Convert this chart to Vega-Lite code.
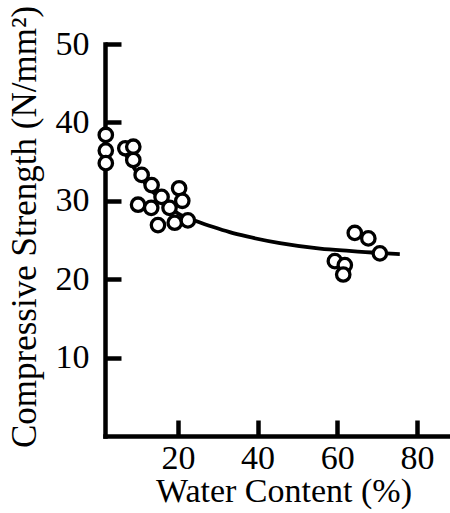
{
  "$schema": "https://vega.github.io/schema/vega-lite/v6.json",
  "autosize": "none",
  "padding": {"left": 105, "top": 44, "right": 0, "bottom": 77},
  "width": 345,
  "height": 392,
  "background": "white",
  "config": {"view": {"stroke": null}},
  "datasets": {
    "points": [
      {"w": 1.9, "s": 38.4}, {"w": 1.9, "s": 36.4}, {"w": 1.9, "s": 34.8},
      {"w": 6.8, "s": 36.7}, {"w": 8.8, "s": 36.9}, {"w": 8.8, "s": 35.2},
      {"w": 10.9, "s": 33.3}, {"w": 13.4, "s": 32.0}, {"w": 15.9, "s": 30.5},
      {"w": 20.3, "s": 31.6}, {"w": 21.1, "s": 30.0}, {"w": 10.0, "s": 29.5},
      {"w": 13.3, "s": 29.1}, {"w": 17.9, "s": 29.1}, {"w": 15.0, "s": 26.9},
      {"w": 19.2, "s": 27.2}, {"w": 22.5, "s": 27.5},
      {"w": 64.4, "s": 25.9}, {"w": 67.8, "s": 25.2}, {"w": 70.7, "s": 23.3},
      {"w": 59.4, "s": 22.3}, {"w": 61.9, "s": 21.8}, {"w": 61.5, "s": 20.6}
    ],
    "curve": [
      {"w": 5.5, "s": 37.2}, {"w": 8, "s": 35.0}, {"w": 10, "s": 33.4},
      {"w": 12, "s": 32.1}, {"w": 14, "s": 31.0}, {"w": 16, "s": 30.0},
      {"w": 18, "s": 29.1}, {"w": 20, "s": 28.4}, {"w": 24.7, "s": 27.4},
      {"w": 28.9, "s": 26.65}, {"w": 33, "s": 26.0}, {"w": 37.3, "s": 25.45},
      {"w": 45.6, "s": 24.6}, {"w": 55.7, "s": 23.9}, {"w": 63, "s": 23.6},
      {"w": 70, "s": 23.35}, {"w": 75.7, "s": 23.2}
    ]
  },
  "encoding": {
    "x": {
      "field": "w", "type": "quantitative",
      "scale": {"domain": [1.7, 88.3], "nice": false, "zero": false},
      "axis": {
        "values": [20, 40, 60, 80],
        "grid": false,
        "title": "Water Content (%)",
        "titleFont": "Liberation Serif", "titleFontSize": 34, "titleFontWeight": "normal",
        "titleColor": "black", "titleX": 178.5, "titleY": 65.5, "titleBaseline": "alphabetic",
        "titleAlign": "center", "titleAnchor": null,
        "labelFont": "Liberation Serif", "labelFontSize": 34, "labelColor": "black",
        "labelBaseline": "alphabetic", "labelPadding": 48, "labelFlush": false,
        "domainColor": "black", "domainWidth": 4.5, "domainCap": "square",
        "tickColor": "black", "tickWidth": 4.5, "tickSize": -16
      }
    },
    "y": {
      "field": "s", "type": "quantitative",
      "scale": {"domain": [0, 50], "nice": false},
      "axis": {
        "values": [10, 20, 30, 40, 50],
        "grid": false,
        "title": "Compressive Strength (N/mm²)",
        "titleFont": "Liberation Serif", "titleFontSize": 35, "titleFontWeight": "normal",
        "titleColor": "black", "titleX": -70, "titleY": 182.5, "titleBaseline": "alphabetic",
        "titleAlign": "center", "titleAngle": 270, "titleAnchor": null,
        "labelFont": "Liberation Serif", "labelFontSize": 34, "labelColor": "black",
        "labelPadding": 32, "labelFlush": false,
        "domainColor": "black", "domainWidth": 4.5, "domainCap": "square",
        "tickColor": "black", "tickWidth": 4.5, "tickSize": -16
      }
    }
  },
  "layer": [
    {
      "data": {"name": "curve"},
      "mark": {"type": "line", "color": "black", "strokeWidth": 3.8, "interpolate": "monotone"}
    },
    {
      "data": {"name": "points"},
      "mark": {"type": "point", "shape": "circle", "filled": false, "fill": "white", "fillOpacity": 1, "stroke": "black", "strokeWidth": 3.3, "opacity": 1, "size": 180}
    }
  ]
}
